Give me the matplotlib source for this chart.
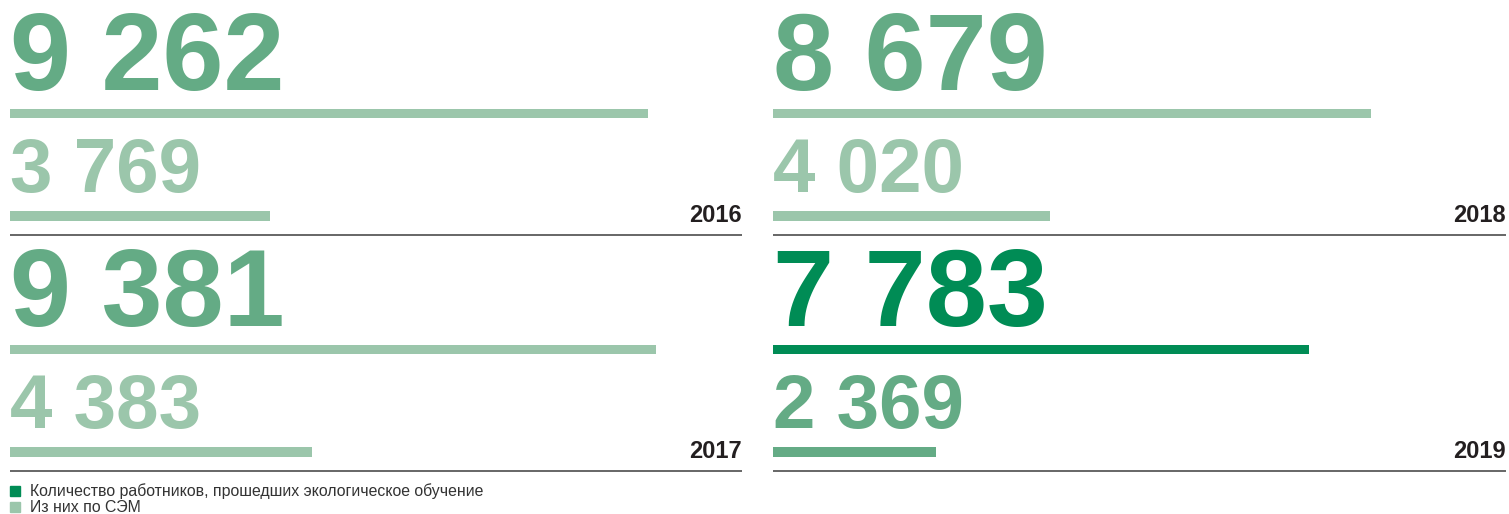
import numpy as np
import matplotlib.pyplot as plt
from matplotlib.patches import Rectangle

plt.rcParams['font.family'] = ['Liberation Sans', 'DejaVu Sans']

years = [2016, 2017, 2018, 2019]
trained = [9262, 9381, 8679, 7783]      # all employees who took environmental training
trained_sem = [3769, 4383, 4020, 2369]  # of them, on the environmental management system
labels = ['Количество работников, прошедших экологическое обучение', 'Из них по СЭМ']

W, H = 1509, 514
XMAX = 10630

DARK = '#008c55'
MID = '#64ab85'
LIGHT = '#9bc6ab'
LINE = '#5a5a5a'
YEAR = '#231f20'


def fmt(v):
    return '{:,}'.format(v).replace(',', ' ')


fig = plt.figure(figsize=(W / 100, H / 100), dpi=100)

# panel boxes in pixels: left, top, width
boxes = {2016: (10, 0, 732), 2017: (10, 236, 732),
         2018: (773, 0, 733), 2019: (773, 236, 733)}
ph = 236

for i, yr in enumerate(years):
    x0, y0, w = boxes[yr]
    ax = fig.add_axes([x0 / W, 1 - (y0 + ph) / H, w / W, ph / H])
    ax.set_xlim(0, XMAX * w / 732)
    ax.set_ylim(ph, 0)
    ax.axis('off')

    last = yr == years[-1]
    c_big, c_bar1 = (DARK, DARK) if last else (MID, LIGHT)
    c_small, c_bar2 = (MID, MID) if last else (LIGHT, LIGHT)

    ax.text(0, 90, fmt(trained[i]), fontsize=79, fontweight='bold',
            color=c_big, va='baseline', ha='left')
    ax.barh(113.5, trained[i], height=9.5, left=0, color=c_bar1)
    ax.text(0, 192, fmt(trained_sem[i]), fontsize=55, fontweight='bold',
            color=c_small, va='baseline', ha='left')
    ax.barh(216, trained_sem[i], height=9.5, left=0, color=c_bar2)

    ax.text(1, 222, str(yr), transform=ax.get_yaxis_transform(),
            fontsize=17, fontweight='bold', color=YEAR,
            va='baseline', ha='right')
    ax.axhline(235, color=LINE, lw=1.3)

# legend below the panels
for k, (lab, col) in enumerate(zip(labels, [DARK, LIGHT])):
    yc = 491 + k * 16
    fig.add_artist(Rectangle((10 / W, 1 - (yc + 5) / H), 10 / W, 10 / H,
                             transform=fig.transFigure, color=col))
    fig.text(30 / W, 1 - yc / H, lab, fontsize=11.4, color='#333333',
             va='center', ha='left')

fig.savefig('out.png', dpi=100)
